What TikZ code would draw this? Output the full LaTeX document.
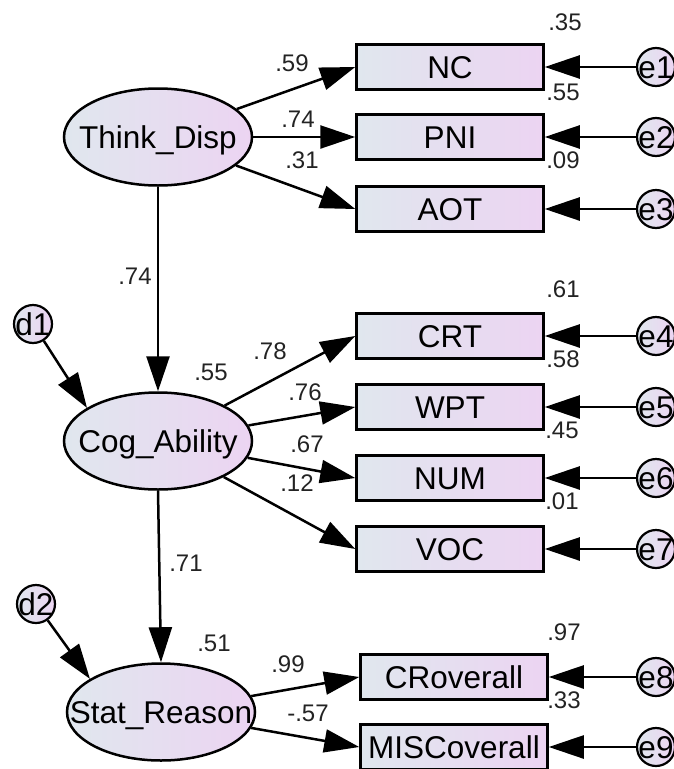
\documentclass[tikz,border=0pt]{standalone}
\usepackage{fontspec}
\setmainfont{Liberation Sans}
\usetikzlibrary{arrows.meta,shapes.geometric}
\definecolor{shL}{RGB}{224,231,238}
\definecolor{shR}{RGB}{236,212,242}
\definecolor{numc}{RGB}{35,35,35}
\begin{document}
\begin{tikzpicture}[x=1pt,y=-1pt,
  bigfont/.style={font=\fontsize{31.5}{36}\selectfont,text height=22.5pt,text depth=0pt,inner sep=0pt},
  lat/.style={ellipse,draw,line width=2.5pt,minimum width=188pt,minimum height=97pt,
    left color=shL,right color=shR,inner sep=0pt},
  obs/.style={rectangle,draw,line width=2.5pt,minimum width=187pt,minimum height=45pt,
    left color=shL,right color=shR,inner sep=0pt,bigfont},
  err/.style={circle,draw,line width=2.2pt,minimum size=38pt,inner sep=0pt,
    left color=shL,right color=shR},
  num/.style={inner sep=0pt,font=\fontsize{24}{28}\selectfont,text height=17pt,text depth=0pt,text=numc},
  arr/.style={line width=2.5pt,-{Triangle[length=35pt,width=23pt]}}]
\useasboundingbox (0,0) rectangle (674,769);

% latent variables
\node[lat,label={[bigfont]center:Think\_Disp}] (TD) at (158,137) {};
\node[lat,label={[bigfont]center:Cog\_Ability}] (CA) at (158,441) {};
\node[lat,label={[bigfont]center:Stat\_Reason}] (SR) at (161,712) {};

% disturbances
\node[err,label={[bigfont]center:d1}] (d1) at (33,324) {};
\node[err,label={[bigfont]center:d2}] (d2) at (36,604) {};

% observed variables
\node[obs] (NC)  at (450,67)  {NC};
\node[obs] (PNI) at (450,137) {PNI};
\node[obs] (AOT) at (450,209) {AOT};
\node[obs] (CRT) at (450,336) {CRT};
\node[obs] (WPT) at (450,407) {WPT};
\node[obs] (NUM) at (450,478) {NUM};
\node[obs] (VOC) at (450,549) {VOC};
\node[obs] (CRO) at (454,677) {CRoverall};
\node[obs] (MIS) at (454,747) {MISCoverall};

% errors
\node[err,label={[bigfont]center:e1}] (e1) at (656,67)  {};
\node[err,label={[bigfont]center:e2}] (e2) at (656,137) {};
\node[err,label={[bigfont]center:e3}] (e3) at (656,209) {};
\node[err,label={[bigfont]center:e4}] (e4) at (656,336) {};
\node[err,label={[bigfont]center:e5}] (e5) at (656,407) {};
\node[err,label={[bigfont]center:e6}] (e6) at (656,478) {};
\node[err,label={[bigfont]center:e7}] (e7) at (656,549) {};
\node[err,label={[bigfont]center:e8}] (e8) at (656,677) {};
\node[err,label={[bigfont]center:e9}] (e9) at (656,747) {};

% structural paths
\draw[arr] (TD.south) -- (CA.north);
\draw[arr] (CA.south) -- (SR.north);
\draw[arr] (d1) -- (CA.155);
\draw[arr] (d2) -- (SR.155);

% loadings
\draw[arr] (TD) -- (NC.west);
\draw[arr] (TD) -- (PNI.west);
\draw[arr] (TD) -- (AOT.west);
\draw[arr] (CA) -- (CRT.west);
\draw[arr] (CA) -- (WPT.west);
\draw[arr] (CA) -- (NUM.west);
\draw[arr] (CA) -- (VOC.west);
\draw[arr] (SR) -- (CRO.west);
\draw[arr] (SR) -- (MIS.west);

% error arrows
\foreach \e/\b in {e1/NC,e2/PNI,e3/AOT,e4/CRT,e5/WPT,e6/NUM,e7/VOC,e8/CRO,e9/MIS}
  \draw[arr] (\e) -- (\b.east);

% path coefficients
\node[num] (l1) at (292,63)  {.59};
\node[num] (l2) at (298,119) {.74};
\node[num] (l3) at (302,160) {.31};
\node[num] (l4) at (135,276) {.74};
\node[num] (l5) at (270,351) {.78};
\node[num] (l6) at (305,392) {.76};
\node[num] (l7) at (307,444) {.67};
\node[num] (l8) at (297,483) {.12};
\node[num] (l9) at (186,563) {.71};
\node[num] (l10) at (288,664) {.99};
\node[num] (l11) at (308,713) {-.57};

% squared multiple correlations
\node[num] (r1) at (565,22)  {.35};
\node[num] (r2) at (563,92)  {.55};
\node[num] (r3) at (563,160) {.09};
\node[num] (r4) at (563,289) {.61};
\node[num] (r5) at (563,359) {.58};
\node[num] (r6) at (562,430) {.45};
\node[num] (r7) at (562,501) {.01};
\node[num] (r8) at (564,632) {.97};
\node[num] (r9) at (564,700) {.33};
\node[num] (r10) at (211,372) {.55};
\node[num] (r11) at (214,643) {.51};
\end{tikzpicture}
\end{document}
